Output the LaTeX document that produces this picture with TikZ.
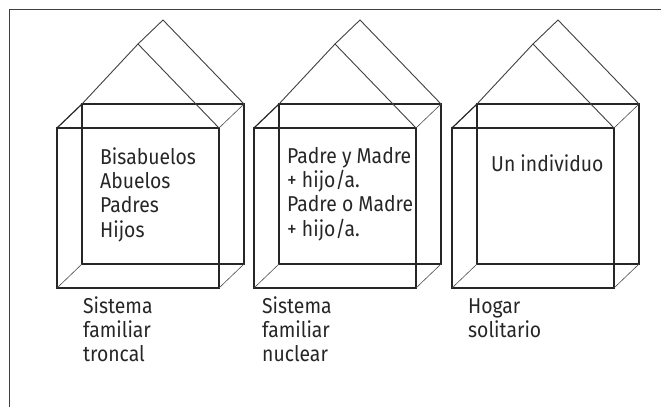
\documentclass[tikz,border=0pt]{standalone}
\usepackage{fontspec}
\setmainfont[FakeStretch=0.9]{Fira Sans}
\begin{document}
\begin{tikzpicture}[x=1pt,y=-1pt,
  frameline/.style={draw=black!75,line width=1.3pt},
  boxline/.style={draw=black!85,line width=1.2pt},
  thinline/.style={draw=black!70,line width=0.6pt},
  roofline/.style={draw=black!75,line width=0.9pt},
  housetext/.style={anchor=base west,inner sep=0pt,align=left,
    font=\fontsize{21.5}{24.4}\selectfont,text=black!85}]
\useasboundingbox (0,0) rectangle (661,407);
% outer frame (only top and left edges fall inside the page)
\draw[frameline] (9.5,407) -- (9.5,9.5) -- (661,9.5);
% a house: front face, back face, depth edges and a gable roof
\newcommand{\drawhouse}[1]{%
  \begin{scope}[shift={(#1,0)}]
    \draw[boxline] (0,128) rectangle (162,288);
    \draw[boxline] (25,104) rectangle (187,264);
    \draw[boxline] (0,128) -- (25,104);
    \draw[thinline] (162,128) -- (187,104);
    \draw[thinline] (0,288) -- (25,264);
    \draw[thinline] (162,288) -- (187,264);
    \draw[roofline] (25,104) -- (81,44) -- (162,128);
    \draw[roofline] (81,44) -- (106,20) -- (187,104);
  \end{scope}}
\drawhouse{57}
\drawhouse{254}
\drawhouse{452}
% contents (anchored at the baseline of the last line)
\node[housetext] (troncal) at (100,237.2) {Bisabuelos\\Abuelos\\Padres\\Hijos};
\node[housetext] (nuclear) at (287,236.2) {Padre y Madre\\+ hijo/a.\\Padre o Madre\\+ hijo/a.};
\node[housetext] (solo) at (491,171) {Un individuo};
% captions
\node[housetext] (cap1) at (83,361.8) {Sistema\\familiar\\troncal};
\node[housetext] (cap2) at (262,361.8) {Sistema\\familiar\\nuclear};
\node[housetext] (cap3) at (468,337.4) {Hogar\\solitario};
\end{tikzpicture}
\end{document}
